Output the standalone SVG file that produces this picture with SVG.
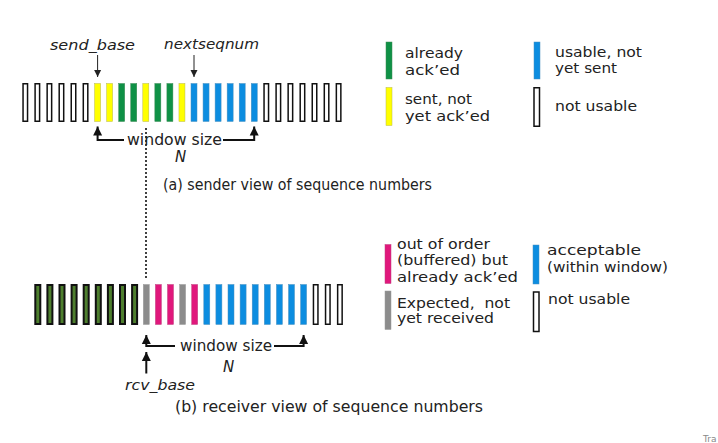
<svg xmlns="http://www.w3.org/2000/svg" width="718" height="443" viewBox="0 0 718 443">
<style>
text{font-family:"DejaVu Sans","Liberation Sans",sans-serif;fill:#222}
.lbl{font-size:14px}
.it{font-style:italic}
.cap{font-size:15px}
.empty{fill:#fff;stroke:#111;stroke-width:1.5}
.ack{fill:#0f9146;stroke:#3d8a55;stroke-width:0.5}
.sent{fill:#ffff00;stroke:#b8b850;stroke-width:0.5}
.usable{fill:#0c8de0;stroke:#4a8fc0;stroke-width:0.5}
.rgreen{fill:#4e7f2e;stroke:#111;stroke-width:2}
.gray{fill:#8c8c8c;stroke:#9a9a9a;stroke-width:0.5}
.mag{fill:#e0187c;stroke:#c04080;stroke-width:0.5}
.thin{fill:none;stroke:#222;stroke-width:1}
.thick{fill:none;stroke:#111;stroke-width:2}
.dots{fill:none;stroke:#111;stroke-width:1.6;stroke-dasharray:2 2}
</style>
<defs>
<marker id="ah" markerUnits="userSpaceOnUse" markerWidth="8" markerHeight="8" refX="7" refY="4" orient="auto"><path d="M0,0.5 L7,4 L0,7.5 z" fill="#222"/></marker>
<marker id="ahb" markerUnits="userSpaceOnUse" markerWidth="10" markerHeight="10" refX="9" refY="5" orient="auto"><path d="M0,0.5 L9,5 L0,9.5 z" fill="#111"/></marker>
</defs>
<g id="sender-row">
<rect class="empty" x="23.05" y="83.75" width="4.5" height="37.5"/>
<rect class="empty" x="35.1" y="83.75" width="4.5" height="37.5"/>
<rect class="empty" x="47.15" y="83.75" width="4.5" height="37.5"/>
<rect class="empty" x="59.2" y="83.75" width="4.5" height="37.5"/>
<rect class="empty" x="71.25" y="83.75" width="4.5" height="37.5"/>
<rect class="empty" x="83.3" y="83.75" width="4.5" height="37.5"/>
<rect class="sent" x="94.6" y="83.5" width="6" height="38"/>
<rect class="sent" x="106.65" y="83.5" width="6" height="38"/>
<rect class="ack" x="118.7" y="83.5" width="6" height="38"/>
<rect class="ack" x="130.75" y="83.5" width="6" height="38"/>
<rect class="sent" x="142.8" y="83.5" width="6" height="38"/>
<rect class="ack" x="154.85" y="83.5" width="6" height="38"/>
<rect class="ack" x="166.9" y="83.5" width="6" height="38"/>
<rect class="sent" x="178.95" y="83.5" width="6" height="38"/>
<rect class="usable" x="191" y="83.5" width="6" height="38"/>
<rect class="usable" x="203.05" y="83.5" width="6" height="38"/>
<rect class="usable" x="215.1" y="83.5" width="6" height="38"/>
<rect class="usable" x="227.15" y="83.5" width="6" height="38"/>
<rect class="usable" x="239.2" y="83.5" width="6" height="38"/>
<rect class="usable" x="251.25" y="83.5" width="6" height="38"/>
<rect class="empty" x="264.05" y="83.75" width="4.5" height="37.5"/>
<rect class="empty" x="276.1" y="83.75" width="4.5" height="37.5"/>
<rect class="empty" x="288.15" y="83.75" width="4.5" height="37.5"/>
<rect class="empty" x="300.2" y="83.75" width="4.5" height="37.5"/>
<rect class="empty" x="312.25" y="83.75" width="4.5" height="37.5"/>
<rect class="empty" x="324.3" y="83.75" width="4.5" height="37.5"/>
<rect class="empty" x="336.35" y="83.75" width="4.5" height="37.5"/>
</g>
<g id="receiver-row">
<rect class="rgreen" x="35.3" y="285" width="5" height="39"/>
<rect class="rgreen" x="47.4" y="285" width="5" height="39"/>
<rect class="rgreen" x="59.5" y="285" width="5" height="39"/>
<rect class="rgreen" x="71.6" y="285" width="5" height="39"/>
<rect class="rgreen" x="83.7" y="285" width="5" height="39"/>
<rect class="rgreen" x="95.8" y="285" width="5" height="39"/>
<rect class="rgreen" x="107.9" y="285" width="5" height="39"/>
<rect class="rgreen" x="120" y="285" width="5" height="39"/>
<rect class="rgreen" x="132.1" y="285" width="5" height="39"/>
<rect class="gray" x="143.3" y="284.5" width="6" height="40"/>
<rect class="mag" x="155.4" y="284.5" width="6" height="40"/>
<rect class="mag" x="167.5" y="284.5" width="6" height="40"/>
<rect class="gray" x="179.6" y="284.5" width="6" height="40"/>
<rect class="mag" x="191.7" y="284.5" width="6" height="40"/>
<rect class="usable" x="203.8" y="284.5" width="6" height="40"/>
<rect class="usable" x="215.9" y="284.5" width="6" height="40"/>
<rect class="usable" x="228" y="284.5" width="6" height="40"/>
<rect class="usable" x="240.1" y="284.5" width="6" height="40"/>
<rect class="usable" x="252.2" y="284.5" width="6" height="40"/>
<rect class="usable" x="264.3" y="284.5" width="6" height="40"/>
<rect class="usable" x="276.4" y="284.5" width="6" height="40"/>
<rect class="usable" x="288.5" y="284.5" width="6" height="40"/>
<rect class="usable" x="300.6" y="284.5" width="6" height="40"/>
<rect class="empty" x="313.45" y="284.75" width="4.5" height="39.5"/>
<rect class="empty" x="325.55" y="284.75" width="4.5" height="39.5"/>
<rect class="empty" x="337.65" y="284.75" width="4.5" height="39.5"/>
</g>
<g id="sender-legend">
<rect class="ack" x="386" y="42" width="6" height="37"/>
<text class="lbl" x="405" y="58" textLength="58" lengthAdjust="spacingAndGlyphs">already</text>
<text class="lbl" x="405" y="75" textLength="55" lengthAdjust="spacingAndGlyphs">ack’ed</text>
<rect class="usable" x="534" y="42" width="6" height="37"/>
<text class="lbl" x="555" y="57" textLength="87" lengthAdjust="spacingAndGlyphs">usable, not</text>
<text class="lbl" x="555" y="73" textLength="62" lengthAdjust="spacingAndGlyphs">yet sent</text>
<rect class="sent" x="386" y="87.5" width="6" height="38"/>
<text class="lbl" x="405" y="104" textLength="67" lengthAdjust="spacingAndGlyphs">sent, not</text>
<text class="lbl" x="405" y="120.5" textLength="85" lengthAdjust="spacingAndGlyphs">yet ack’ed</text>
<rect class="empty" x="534" y="87.75" width="5.5" height="38.5"/>
<text class="lbl" x="555" y="110.5" textLength="82" lengthAdjust="spacingAndGlyphs">not usable</text>
</g>
<g id="receiver-legend">
<rect class="mag" x="385" y="244.5" width="6" height="39"/>
<text class="lbl" x="397" y="248.5" textLength="93" lengthAdjust="spacingAndGlyphs">out of order</text>
<text class="lbl" x="397" y="265" textLength="111" lengthAdjust="spacingAndGlyphs">(buffered) but</text>
<text class="lbl" x="397" y="281.5" textLength="121" lengthAdjust="spacingAndGlyphs">already ack’ed</text>
<rect class="usable" x="533" y="245" width="6" height="39"/>
<text class="lbl" x="547" y="255" textLength="94" lengthAdjust="spacingAndGlyphs">acceptable</text>
<text class="lbl" x="547" y="271.5" textLength="121" lengthAdjust="spacingAndGlyphs">(within window)</text>
<rect class="gray" x="385" y="291" width="6" height="38.5"/>
<text class="lbl" x="397" y="307.5" textLength="113" lengthAdjust="spacingAndGlyphs" xml:space="preserve">Expected,  not</text>
<text class="lbl" x="397" y="323" textLength="97" lengthAdjust="spacingAndGlyphs">yet received</text>
<rect class="empty" x="533.5" y="292" width="5.5" height="39.5"/>
<text class="lbl" x="548" y="303.5" textLength="82" lengthAdjust="spacingAndGlyphs">not usable</text>
</g>
<g id="connectors">
<path class="thin" d="M97.6,55 V77" marker-end="url(#ah)"/>
<path class="thin" d="M194,55 V77" marker-end="url(#ah)"/>
<path class="thick" d="M124,140 H97.6 V126.5" marker-end="url(#ahb)"/>
<path class="thick" d="M223,140 H254.2 V126.5" marker-end="url(#ahb)"/>
<path class="dots" d="M146,128 V280"/>
<path class="thick" d="M175,346 H146.3 V335" marker-end="url(#ahb)"/>
<path class="thick" d="M274,346 H303.6 V335" marker-end="url(#ahb)"/>
<path class="thick" d="M146.3,373.5 V352" marker-end="url(#ahb)"/>
</g>
<g id="labels">
<text class="lbl it" x="50" y="50" textLength="85" lengthAdjust="spacingAndGlyphs">send_base</text>
<text class="lbl it" x="164" y="49" textLength="95" lengthAdjust="spacingAndGlyphs">nextseqnum</text>
<text class="cap" x="127" y="145" textLength="95" lengthAdjust="spacingAndGlyphs">window size</text>
<text class="cap it" x="175" y="162">N</text>
<text class="cap" x="163" y="189.5" textLength="269" lengthAdjust="spacingAndGlyphs">(a) sender view of sequence numbers</text>
<text class="cap" x="180" y="351" textLength="92" lengthAdjust="spacingAndGlyphs">window size</text>
<text class="cap it" x="223" y="372">N</text>
<text class="lbl it" x="125" y="389.5" textLength="70" lengthAdjust="spacingAndGlyphs">rcv_base</text>
<text class="cap" x="175" y="412" textLength="308" lengthAdjust="spacingAndGlyphs">(b) receiver view of sequence numbers</text>
<text x="703" y="441.5" style="font-size:9px;fill:#888">Tra</text>
</g>
</svg>
